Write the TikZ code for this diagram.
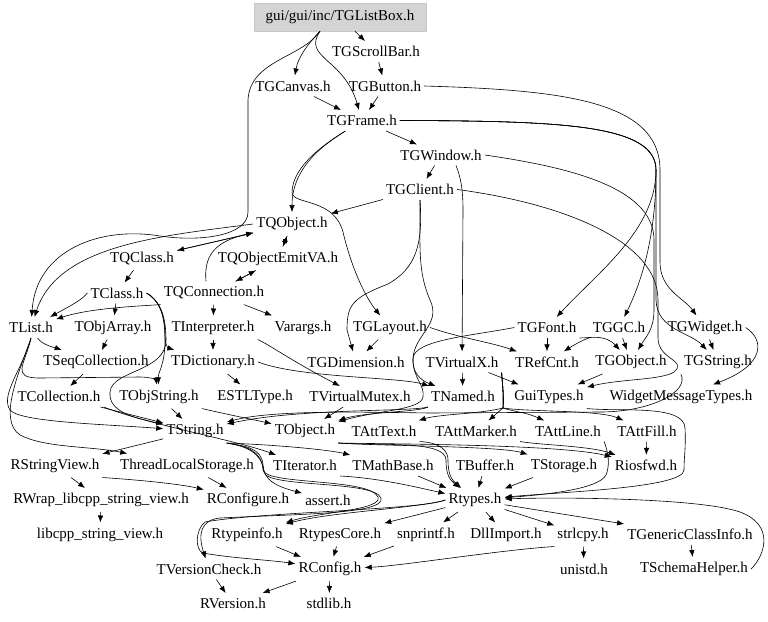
\documentclass[tikz,border=0pt]{standalone}
\usepackage{fontspec}
\setmainfont{Liberation Serif}
\usetikzlibrary{arrows.meta}

\tikzset{
  file/.style={inner xsep=3pt, inner ysep=5pt, font=\fontsize{15}{17}\selectfont},
  rootfile/.style={file, fill=black!17, draw=black!22, minimum width=172pt, minimum height=28pt},
  dep/.style={-{Latex[length=7pt,width=5.5pt]}, line width=0.6pt},
}

\begin{document}
\begin{tikzpicture}[x=1pt, y=-1pt]
  \useasboundingbox (0,0) rectangle (768,621);

  % GUI headers
  \node[rootfile] (tglistbox) at (340,17) {gui/gui/inc/TGListBox.h};
  \node[file] (tgscrollbar) at (376,51.5) {TGScrollBar.h};
  \node[file] (tgcanvas) at (293,86) {TGCanvas.h};
  \node[file] (tgbutton) at (385,86) {TGButton.h};
  \node[file] (tgframe) at (362,120.5) {TGFrame.h};
  \node[file] (tgwindow) at (441,155) {TGWindow.h};
  \node[file] (tgclient) at (420,189.5) {TGClient.h};

  % signal/slot classes
  \node[file] (tqobject) at (292,224) {TQObject.h};
  \node[file] (tqclass) at (142,258.5) {TQClass.h};
  \node[file] (tqobjectemitva) at (278,258.5) {TQObjectEmitVA.h};
  \node[file] (tclass) at (117,293) {TClass.h};
  \node[file] (tqconnection) at (214,293) {TQConnection.h};

  \node[file] (tlist) at (31,327.5) {TList.h};
  \node[file] (tobjarray) at (113,327.5) {TObjArray.h};
  \node[file] (tinterpreter) at (213,327.5) {TInterpreter.h};
  \node[file] (varargs) at (303,327.5) {Varargs.h};
  \node[file] (tglayout) at (390,327.5) {TGLayout.h};
  \node[file] (tgfont) at (547,327.5) {TGFont.h};
  \node[file] (tggc) at (619,327.5) {TGGC.h};
  \node[file] (tgwidget) at (705,327.5) {TGWidget.h};

  \node[file] (tseqcollection) at (96,362) {TSeqCollection.h};
  \node[file] (tdictionary) at (213,362) {TDictionary.h};
  \node[file] (tgdimension) at (356,362) {TGDimension.h};
  \node[file] (tvirtualx) at (462,362) {TVirtualX.h};
  \node[file] (trefcnt) at (547,362) {TRefCnt.h};
  \node[file] (tgobject) at (631,362) {TGObject.h};
  \node[file] (tgstring) at (718,362) {TGString.h};

  \node[file] (tcollection) at (59,396.5) {TCollection.h};
  \node[file] (tobjstring) at (159,396.5) {TObjString.h};
  \node[file] (estltype) at (255,396.5) {ESTLType.h};
  \node[file] (tvirtualmutex) at (360,396.5) {TVirtualMutex.h};
  \node[file] (tnamed) at (463,396.5) {TNamed.h};
  \node[file] (guitypes) at (549,396.5) {GuiTypes.h};
  \node[file] (widgetmessagetypes) at (681,396.5) {WidgetMessageTypes.h};

  % core headers
  \node[file] (tstring) at (195,431) {TString.h};
  \node[file] (tobject) at (305,431) {TObject.h};
  \node[file] (tatttext) at (384,431) {TAttText.h};
  \node[file] (tattmarker) at (476,431) {TAttMarker.h};
  \node[file] (tattline) at (568,431) {TAttLine.h};
  \node[file] (tattfill) at (647,431) {TAttFill.h};

  \node[file] (rstringview) at (55,465.5) {RStringView.h};
  \node[file] (threadlocalstorage) at (187,465.5) {ThreadLocalStorage.h};
  \node[file] (titerator) at (305,465.5) {TIterator.h};
  \node[file] (tmathbase) at (393,465.5) {TMathBase.h};
  \node[file] (tbuffer) at (485,465.5) {TBuffer.h};
  \node[file] (tstorage) at (564,465.5) {TStorage.h};
  \node[file] (riosfwd) at (646,465.5) {Riosfwd.h};

  \node[file] (rwrap) at (101,500) {RWrap\_libcpp\_string\_view.h};
  \node[file] (rconfigure) at (248,500) {RConfigure.h};
  \node[file] (assert) at (328,500) {assert.h};
  \node[file] (rtypes) at (475,500) {Rtypes.h};

  \node[file] (libcpp) at (100,534.5) {libcpp\_string\_view.h};
  \node[file] (rtypeinfo) at (247,534.5) {Rtypeinfo.h};
  \node[file] (rtypescore) at (340,534.5) {RtypesCore.h};
  \node[file] (snprintf) at (426,534.5) {snprintf.h};
  \node[file] (dllimport) at (506,534.5) {DllImport.h};
  \node[file] (strlcpy) at (583,534.5) {strlcpy.h};
  \node[file] (tgenericclassinfo) at (690,534.5) {TGenericClassInfo.h};

  \node[file] (tversioncheck) at (209,569) {TVersionCheck.h};
  \node[file] (rconfig) at (330,569) {RConfig.h};
  \node[file] (unistd) at (584,569) {unistd.h};
  \node[file] (tschemahelper) at (694,569) {TSchemaHelper.h};

  \node[file] (rversion) at (233,603.5) {RVersion.h};
  \node[file] (stdlib) at (329,603.5) {stdlib.h};

  % from the list box
  \draw[dep] (tglistbox) -- (tgscrollbar);
  \draw[dep] ([xshift=-20pt]tglistbox.south) .. controls (306,46) and (298,58) .. (tgcanvas);
  \draw[dep] ([xshift=-20pt]tglistbox.south) .. controls (302,58) and (344,58) .. (tgframe);
  \draw[dep] ([xshift=-20pt]tglistbox.south) .. controls (302,58) and (250,60) .. (248,100) -- (248,212)
    .. controls (248,236) and (200,242) .. (160,236) .. controls (100,226) and (36,250) .. (tlist);

  \draw[dep] (tgscrollbar) -- (tgbutton);
  \draw[dep] (tgcanvas) -- (tgframe);
  \draw[dep] (tgbutton) -- (tgframe);
  \draw[dep] (tgframe) -- (tgwindow);
  \draw[dep] (tgwindow) -- (tgclient);

  % long lines down the right side
  \draw[dep] (tgbutton.east) .. controls (560,90) and (660,100) .. (660,170) -- (660,262)
    .. controls (660,290) and (684,298) .. (tgwidget);
  \draw[dep] (tgframe.east) .. controls (560,121) and (656,124) .. (656,170)
    .. controls (656,230) and (598,272) .. (tgfont);
  \draw[dep] (tgframe.east) .. controls (560,121) and (656,124) .. (656,170)
    .. controls (656,240) and (640,285) .. (tggc);
  \draw[dep] (tgframe.east) .. controls (560,121) and (656,124) .. (656,170) -- (656,300)
    .. controls (657,330) and (690,332) .. (tgstring);
  \draw[dep] (tgwindow.east) .. controls (560,166) and (654,185) .. (654,240) -- (654,310)
    .. controls (654,330) and (645,338) .. (tgobject);
  \draw[dep] (tgclient.east) .. controls (560,203) and (658,240) .. (658,300) -- (658,338)
    .. controls (658,360) and (688,360) .. (674,372) .. controls (662,380) and (620,379) .. (guitypes);

  % frame and client into the middle
  \draw[dep] (tgframe) .. controls (328,142) and (292,165) .. (tqobject);
  \draw[dep] (tgframe) .. controls (328,142) and (292,165) .. (292,193)
    .. controls (294,205) and (334,198) .. (343,232) .. controls (352,270) and (366,298) .. (tglayout);
  \draw[dep] (tgclient) -- (tqobject);
  \draw[dep] (tgclient.south) .. controls (423,245) and (416,268) .. (388,284)
    .. controls (352,298) and (347,305) .. (347,330) -- (tgdimension);
  \draw[dep] (tgclient.south) .. controls (420,250) and (418,272) .. (430,300)
    .. controls (442,325) and (413,335) .. (413,360) .. controls (413,378) and (425,385) .. (423,397)
    .. controls (421,410) and (380,410) .. (tobject);
  \draw[dep] ([xshift=15pt]tgwindow.south) .. controls (461,178) and (463,190) .. (463,210) -- (tvirtualx);

  % signal/slot classes
  \draw[dep] (tqobject) -- (tqclass);
  \draw[dep] (tqclass) -- (tqobject);
  \draw[dep] (tqobject) -- (tqobjectemitva);
  \draw[dep] (tqobjectemitva) -- (tqobject);
  \draw[dep] (tqobjectemitva) -- (tqconnection);
  \draw[dep] (tqconnection) -- (tqobjectemitva);
  \draw[dep] ([xshift=-8pt]tqconnection.north) .. controls (204,258) and (212,242) .. (tqobject);
  \draw[dep] (tqobject.west) .. controls (160,236) and (58,245) .. (tlist);

  \draw[dep] (tqclass) -- (tclass);
  \draw[dep] (tclass.west) .. controls (82,300) and (70,306) .. (tlist);
  \draw[dep] (tclass) -- (tobjarray);
  \draw[dep] (tqconnection) -- (tinterpreter);
  \draw[dep] (tqconnection) -- (varargs);
  \draw[dep] (tqconnection.south west) .. controls (140,306) and (90,308) .. (tlist);
  \draw[dep] (tclass.east) .. controls (158,300) and (165,312) .. (165,335)
    .. controls (165,345) and (168,348) .. (tdictionary);
  \draw[dep] (tclass.east) .. controls (158,300) and (165,312) .. (165,340)
    .. controls (165,365) and (158,372) .. (tobjstring);
  \draw[dep] (tclass.east) .. controls (158,300) and (166,312) .. (166,340)
    .. controls (166,372) and (112,370) .. (110,392) .. controls (108,412) and (135,418) .. (tstring);

  % collections
  \draw[dep] (tlist) .. controls (42,345) and (56,348) .. (tseqcollection);
  \draw[dep] (tobjarray) -- (tseqcollection);
  \draw[dep] (tseqcollection) -- (tcollection);
  \draw[dep] (tlist.south) .. controls (25,365) and (10,378) .. (40,378) -- (140,377)
    .. controls (150,377) and (156,380) .. (tobjstring);
  \draw[dep] (tlist.south) .. controls (22,370) and (0,395) .. (10,410)
    .. controls (20,422) and (100,424) .. (tstring);
  \draw[dep] (tlist.south) .. controls (18,375) and (-2,420) .. (20,435)
    .. controls (45,448) and (90,446) .. (threadlocalstorage);
  \draw[dep] (tcollection.south east) .. controls (150,425) and (235,440) .. (titerator);
  \draw[dep] (tcollection) -- (tstring);

  % interpreter and dictionary
  \draw[dep] (tinterpreter) -- (tdictionary);
  \draw[dep] (tinterpreter.south east) .. controls (270,345) and (290,360) .. (tvirtualmutex);
  \draw[dep] (tdictionary) -- (estltype);
  \draw[dep] (tdictionary.east) .. controls (300,378) and (400,377) .. (tnamed);
  \draw[dep] (tobjstring) -- (tstring);
  \draw[dep] (tobjstring.south east) .. controls (230,415) and (255,420) .. (tobject);
  \draw[dep] (tvirtualmutex) -- (tobject);

  % GUI helpers
  \draw[dep] (tglayout) -- (tgdimension);
  \draw[dep] (tglayout.east) .. controls (460,338) and (490,342) .. (trefcnt);
  \draw[dep] (tgfont) -- (trefcnt);
  \draw[dep] (tgfont.west) .. controls (470,336) and (415,340) .. (413,358)
    .. controls (412,372) and (420,380) .. (tnamed);
  \draw[dep] (tgfont.south east) .. controls (590,338) and (605,334) .. (tgobject);
  \draw[dep] (tggc) -- (tgobject);
  \draw[dep] (tggc.south west) .. controls (595,336) and (585,338) .. (trefcnt);
  \draw[dep] (tgwidget) -- (tgstring);
  \draw[dep] (tgwidget.east) .. controls (765,340) and (765,365) .. (widgetmessagetypes);
  \draw[dep] (tgobject) -- (guitypes);
  \draw[dep] (tvirtualx) -- (guitypes);
  \draw[dep] (tvirtualx) -- (tnamed);
  \draw[dep] (tgstring.south west) .. controls (690,392) and (650,412) .. (600,412) -- (430,413)
    .. controls (360,412) and (270,410) .. (tstring);

  % TNamed and the attributes
  \draw[dep] (tnamed.south west) .. controls (420,412) and (365,412) .. (tobject);
  \draw[dep] (tnamed.south west) .. controls (410,412) and (300,408) .. (tstring);
  \draw[dep] (tvirtualx.south east) .. controls (502,380) and (504,395) .. (503,408)
    .. controls (480,414) and (440,414) .. (tatttext);
  \draw[dep] (tvirtualx.south east) .. controls (502,380) and (504,395) .. (503,408)
    .. controls (498,412) and (495,415) .. (tattmarker);
  \draw[dep] (tvirtualx.south east) .. controls (502,380) and (504,395) .. (503,408)
    .. controls (515,412) and (525,412) .. (tattline);
  \draw[dep] (tvirtualx.south east) .. controls (502,380) and (504,395) .. (503,408)
    .. controls (530,412) and (600,410) .. (tattfill);
  \draw[dep] (guitypes.south east) .. controls (620,412) and (684,404) .. (685,428)
    .. controls (686,448) and (684,456) .. (684,470) .. controls (684,488) and (560,492) .. (rtypes);

  % down to Rtypes
  \draw[dep] (tobject.south east) .. controls (380,446) and (500,446) .. (tstorage);
  \draw[dep] (tobject.south east) .. controls (380,444) and (560,444) .. (riosfwd);
  \draw[dep] (tobject.south east) .. controls (380,446) and (446,440) .. (446,460)
    .. controls (446,475) and (450,480) .. (rtypes);
  \draw[dep] (tatttext.south east) .. controls (430,442) and (448,445) .. (448,460)
    .. controls (448,475) and (452,480) .. (rtypes);
  \draw[dep] (tattmarker.south east) .. controls (540,445) and (590,446) .. (riosfwd);
  \draw[dep] (tattline.south east) .. controls (605,445) and (612,460) .. (606,475)
    .. controls (598,490) and (540,495) .. (rtypes);
  \draw[dep] (tattfill) -- (riosfwd);
  \draw[dep] (titerator.south east) .. controls (380,478) and (420,488) .. (rtypes);
  \draw[dep] (tmathbase) -- (rtypes);
  \draw[dep] (tbuffer) -- (rtypes);
  \draw[dep] (tstorage) -- (rtypes);
  \draw[dep] (tschemahelper.east) .. controls (765,555) and (775,525) .. (740,512)
    .. controls (700,498) and (560,497) .. (rtypes);

  % TString and friends
  \draw[dep] (tstring) -- (rstringview);
  \draw[dep] (tstring.south east) .. controls (280,445) and (330,450) .. (tmathbase);
  \draw[dep] (tstring.south east) .. controls (245,446) and (262,448) .. (263,465)
    .. controls (264,480) and (275,486) .. (assert);
  \draw[dep] (tstring.south east) .. controls (245,446) and (262,450) .. (263,470)
    .. controls (265,485) and (370,478) .. (378,497) .. controls (383,510) and (320,512) .. (rtypeinfo);
  \draw[dep] (tstring.south east) .. controls (245,446) and (262,452) .. (264,472)
    .. controls (266,488) and (374,480) .. (381,498) .. controls (386,514) and (300,514) .. (220,518)
    .. controls (200,520) and (198,535) .. (tversioncheck);

  % Rtypes and what it pulls in
  \draw[dep] (rtypes) -- (rtypescore);
  \draw[dep] (rtypes) -- (snprintf);
  \draw[dep] (rtypes) -- (dllimport);
  \draw[dep] (rtypes) -- (strlcpy);
  \draw[dep] (rtypes) -- (tgenericclassinfo);
  \draw[dep] (rtypes.west) .. controls (420,508) and (330,512) .. (rtypeinfo);
  \draw[dep] (rtypes.west) .. controls (420,510) and (260,512) .. (205,522)
    .. controls (195,530) and (195,550) .. (203,553) .. controls (230,558) and (270,560) .. (rconfig);
  \draw[dep] (rtypescore) -- (rconfig);
  \draw[dep] (snprintf) -- (rconfig);
  \draw[dep] (strlcpy.south west) .. controls (500,550) and (400,566) .. (rconfig);
  \draw[dep] (rtypeinfo) -- (rconfig);
  \draw[dep] (strlcpy) -- (unistd);
  \draw[dep] (tgenericclassinfo) -- (tschemahelper);
  \draw[dep] (tversioncheck) -- (rversion);
  \draw[dep] (rconfig) -- (rversion);
  \draw[dep] (rconfig) -- (stdlib);

  % string view
  \draw[dep] (rstringview) -- (rwrap);
  \draw[dep] (rstringview.south east) .. controls (140,480) and (180,484) .. (rconfigure);
  \draw[dep] (threadlocalstorage) -- (rconfigure);
  \draw[dep] (rwrap) -- (libcpp);
\end{tikzpicture}
\end{document}
